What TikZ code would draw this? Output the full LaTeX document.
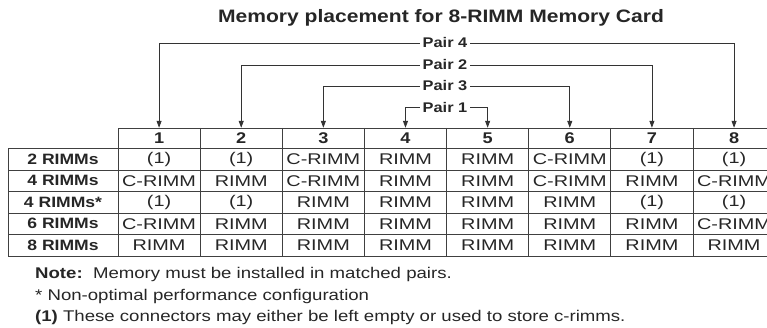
\documentclass[tikz,border=0pt]{standalone}
\usepackage{fontspec}
\setmainfont[FakeStretch=1.2]{Liberation Sans}
\newfontfamily\tabfont[FakeStretch=1.28]{Liberation Sans}
\newfontfamily\labfont[FakeStretch=1.17]{Liberation Sans}
\usetikzlibrary{arrows.meta,positioning}
\tikzset{
  pairlbl/.style={font=\labfont\bfseries\fontsize{14}{14}\selectfont,inner sep=2.5pt,text=black!85},
  pairln/.style={black!80,line width=0.8pt,-{Triangle[width=5pt,length=7pt]}},
  cell/.style={font=\tabfont\fontsize{15.5}{15.5}\selectfont,inner sep=0pt,text=black!85},
  rowcell/.style={cell,font=\labfont\bfseries\fontsize{15}{15}\selectfont},
  headcell/.style={cell,font=\labfont\bfseries\fontsize{15.5}{15.5}\selectfont,minimum height=20.5pt},
  tabline/.style={black!75,line width=0.8pt},
  notetxt/.style={font=\fontsize{15.5}{15.5}\selectfont,inner sep=0pt,anchor=base west,text=black!85},
}
\begin{document}
\begin{tikzpicture}[x=1pt,y=-1pt]
  \clip (0,0) rectangle (767,328);
  \node[font=\labfont\bfseries\fontsize{18}{18}\selectfont,text=black!85] (title) at (441,18) {Memory placement for 8-RIMM Memory Card};
  % table grid
  \draw[tabline] (118,128) rectangle (776,148.5);
  \draw[tabline] (8,148.5) rectangle (776,256);
  \foreach \y in {170,191.5,213,234.5}
    \draw[tabline] (8,\y) -- (776,\y);
  \draw[tabline] (118,148.5) -- (118,256);
  \foreach \k in {1,...,7}
    \draw[tabline] ({118+82.14*\k},128) -- ({118+82.14*\k},256);
  % header
  \foreach \k in {1,...,8}
    \node[headcell] (h\k) at ({118+82.14*(\k-0.5)},138.25) {\k};
  % rows
  \foreach \lab/\cells [count=\r] in {
      2 RIMMs/{(1),(1),C-RIMM,RIMM,RIMM,C-RIMM,(1),(1)},
      4 RIMMs/{C-RIMM,RIMM,C-RIMM,RIMM,RIMM,C-RIMM,RIMM,C-RIMM},
      4 RIMMs*/{(1),(1),RIMM,RIMM,RIMM,RIMM,(1),(1)},
      6 RIMMs/{C-RIMM,RIMM,RIMM,RIMM,RIMM,RIMM,RIMM,C-RIMM},
      8 RIMMs/{RIMM,RIMM,RIMM,RIMM,RIMM,RIMM,RIMM,RIMM}} {
    \node[rowcell] (r\r) at (63,{148.5+21.5*(\r-0.5)}) {\lab};
    \foreach \c [count=\k] in \cells
      \node[cell] (c\r-\k) at ({118+82.14*(\k-0.5)},{148.5+21.5*(\r-0.5)}) {\c};
  }
  % pairs
  \node[pairlbl] (p4) at (445,43) {Pair 4};
  \node[pairlbl] (p2) at (445,65) {Pair 2};
  \node[pairlbl] (p3) at (445,86) {Pair 3};
  \node[pairlbl] (p1) at (445,107) {Pair 1};
  \draw[pairln] (p4.west) -| (h1.north);
  \draw[pairln] (p4.east) -| (h8.north);
  \draw[pairln] (p2.west) -| (h2.north);
  \draw[pairln] (p2.east) -| (h7.north);
  \draw[pairln] (p3.west) -| (h3.north);
  \draw[pairln] (p3.east) -| (h6.north);
  \draw[pairln] (p1.west) -| (h4.north);
  \draw[pairln] (p1.east) -| (h5.north);
  % notes
  \node[notetxt] (n1) at (35,279) {\textbf{Note:}\ \ Memory must be installed in matched pairs.};
  \node[notetxt] (n2) at (35,300.5) {* Non-optimal performance configuration};
  \node[notetxt] (n3) at (35,321.5) {\textbf{(1)} These connectors may either be left empty or used to store c-rimms.};
\end{tikzpicture}
\end{document}
